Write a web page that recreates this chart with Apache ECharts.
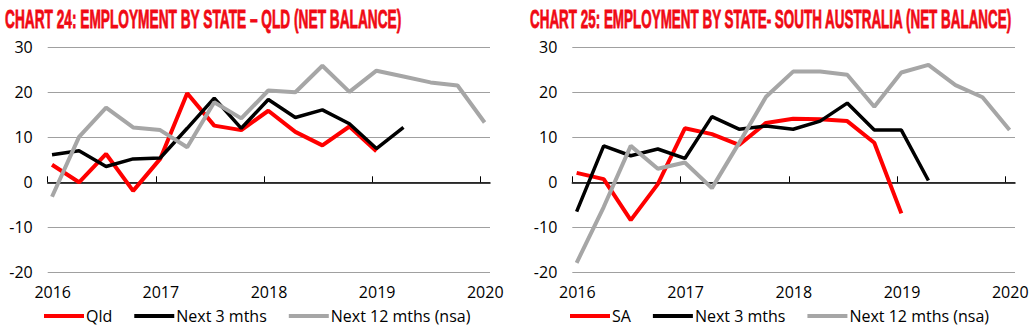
<!DOCTYPE html>
<html>
<head>
<meta charset="utf-8">
<script src="https://cdn.jsdelivr.net/npm/echarts@6/dist/echarts.min.js"></script>
<style>
  html, body { margin: 0; padding: 0; background: #fff; }
  #chart { width: 1033px; height: 334px; }
</style>
</head>
<body>
<div id="chart"></div>
<script>
// ---- data ----
const quarterPos = [2016.04, 2016.29, 2016.54, 2016.79, 2017.04, 2017.29, 2017.54, 2017.79,
                    2018.04, 2018.29, 2018.54, 2018.79, 2019.04, 2019.29, 2019.54, 2019.79, 2020.04];
const yearTicks = [2016, 2017, 2018, 2019, 2020];

const qldActual = [3.9, 0, 6.3, -1.9, 5.2, 19.8, 12.6, 11.6, 15.9, 11.2, 8.2, 12.4, 6.9];
const qldNext3 = [6.1, 7.0, 3.5, 5.2, 5.4, 12.0, 18.7, 12.0, 18.4, 14.4, 16.1, 13.0, 7.5, 12.2];
const qldNext12 = [-3.2, 10.1, 16.6, 12.2, 11.6, 7.8, 17.8, 14.2, 20.4, 20.0, 25.9, 20.1, 24.8, 23.5, 22.2, 21.5, 13.3];

const saActual = [2.1, 0.7, -8.4, -0.4, 12.0, 10.7, 8.3, 13.2, 14.1, 14.0, 13.6, 8.8, -6.9];
const saNext3 = [-6.5, 8.1, 5.9, 7.4, 5.3, 14.6, 11.8, 12.5, 11.8, 13.6, 17.6, 11.6, 11.6, 0.4];
const saNext12 = [-17.9, -5.5, 8.1, 3.0, 4.4, -1.3, 8.7, 19.0, 24.6, 24.6, 23.9, 16.8, 24.4, 26.1, 21.6, 18.9, 11.6];

const title24 = 'CHART 24: EMPLOYMENT BY STATE \u2013 QLD (NET BALANCE)';
const title25 = 'CHART 25: EMPLOYMENT BY STATE- SOUTH AUSTRALIA (NET BALANCE)';
const legend24 = ['Qld', 'Next 3 mths', 'Next 12 mths (nsa)'];
const legend25 = ['SA', 'Next 3 mths', 'Next 12 mths (nsa)'];

// ---- styling / layout ----
const RED = '#ff0000', BLACK = '#000000', GREY = '#a6a6a6', TITLE_RED = '#f00a14';
const FONT = '"Open Sans", "DejaVu Sans", sans-serif';
const TITLE_FONT = 'bold 26px "Liberation Sans"';

function pairs(vals) { return vals.map((v, i) => [quarterPos[i], v]); }

function measure(text) {
  const c = document.createElement('canvas').getContext('2d');
  c.font = TITLE_FONT;
  return c.measureText(text).width;
}

function titleGraphic(text, x, targetW) {
  return {
    type: 'text', x: x, y: 19, scaleX: targetW / measure(text), scaleY: 1,
    style: { text: text, font: TITLE_FONT, fill: TITLE_RED, stroke: TITLE_RED, lineWidth: 0.8,
             verticalAlign: 'middle', align: 'left' }
  };
}

const grids = [
  { left: 47.7, top: 47.3, width: 442.3, height: 225 },
  { left: 572.3, top: 47.3, width: 442.7, height: 225 }
];

function labelAxis(g) {
  return {
    gridIndex: g, type: 'value', min: 2016, max: 2020.09, position: 'bottom',
    axisLine: { show: false, onZero: false }, axisTick: { show: false },
    splitLine: { show: false },
    axisLabel: { customValues: yearTicks, fontSize: 16, fontFamily: FONT, color: '#000', margin: 12,
                 padding: [0, 0, 0, 10], formatter: v => String(Math.round(v)) }
  };
}
function zeroAxis(g) {
  return {
    gridIndex: g, type: 'value', min: 2016, max: 2020.09, position: 'bottom',
    axisLine: { show: true, onZero: true, lineStyle: { color: '#000', width: 1.5 } },
    axisTick: { show: true, inside: true, length: 6, customValues: yearTicks, lineStyle: { color: '#000', width: 1 } },
    axisLabel: { show: false }, splitLine: { show: false }
  };
}
function yAxis(g) {
  return {
    gridIndex: g, type: 'value', min: -20, max: 30, interval: 10,
    axisLine: { show: false }, axisTick: { show: false },
    splitLine: { show: true, lineStyle: { color: '#a0a0a0', width: 1 } },
    axisLabel: { fontSize: 16, fontFamily: FONT, color: '#000', margin: 15 }
  };
}
function lineSeries(name, vals, color, xi, yi, w) {
  return {
    type: 'line', name: name, data: pairs(vals), xAxisIndex: xi, yAxisIndex: yi,
    showSymbol: false, symbol: 'none', animation: false,
    lineStyle: { color: color, width: w }, itemStyle: { color: color }
  };
}
function legend(names, left) {
  return {
    data: names, left: left, top: 303, icon: 'rect', itemWidth: 40, itemHeight: 4, itemGap: 22,
    textStyle: { fontSize: 16, fontFamily: FONT, color: '#000', padding: [0, 0, 0, -3] },
    selectedMode: false
  };
}

const chart = echarts.init(document.getElementById('chart'), null, { renderer: 'svg' });
chart.setOption({
  animation: false,
  grid: grids,
  xAxis: [labelAxis(0), zeroAxis(0), labelAxis(1), zeroAxis(1)],
  yAxis: [yAxis(0), yAxis(1)],
  legend: [legend(legend24, 39), legend(legend25, 565)],
  graphic: [titleGraphic(title24, 5, 397), titleGraphic(title25, 530, 483)],
  series: [
    lineSeries('Qld', qldActual, RED, 0, 0, 4),
    lineSeries('Next 3 mths', qldNext3, BLACK, 0, 0, 3.5),
    lineSeries('Next 12 mths (nsa)', qldNext12, GREY, 0, 0, 4),
    lineSeries('SA', saActual, RED, 2, 1, 4),
    lineSeries('Next 3 mths', saNext3, BLACK, 2, 1, 3.5),
    lineSeries('Next 12 mths (nsa)', saNext12, GREY, 2, 1, 4)
  ]
});
</script>
</body>
</html>
